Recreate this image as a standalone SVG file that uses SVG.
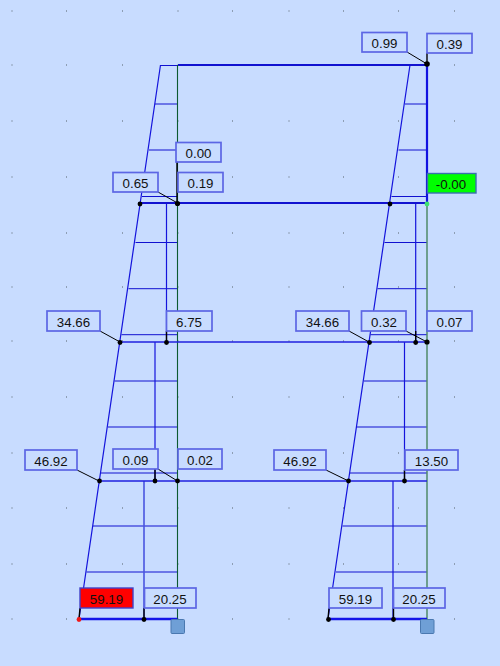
<svg xmlns="http://www.w3.org/2000/svg" width="500" height="666" viewBox="0 0 500 666">
<style>
.b{fill:#c8dcff;stroke:#5c66e4;stroke-width:1.7}
.t{font-family:"Liberation Sans",Arial,sans-serif;font-size:13.300px;fill:#111;text-anchor:middle}
.m{stroke:#1414dc;stroke-width:1.2;fill:none}
.h{stroke:#1010d0;stroke-width:1;fill:none}
.g{stroke:#0c5a30;stroke-width:1.1;fill:none}
.g2{stroke:#4f8a68;stroke-width:1.5;fill:none}
.k{stroke:#000;stroke-width:1;fill:none}
.k2{stroke:#000;stroke-width:1.4;fill:none}
.d{fill:#000}
.s{fill:#6f9fd6;stroke:#4a78b0;stroke-width:1}
.p{fill:#55606a}
</style>
<defs>
<g id="row">
<rect class="p" x="11.5" y="-.5" width="1" height="1"/><rect class="p" x="66" y="-.5" width="1" height="1"/><rect class="p" x="122" y="-.5" width="1" height="1"/><rect class="p" x="177.5" y="-.5" width="1" height="1"/><rect class="p" x="232" y="-.5" width="1" height="1"/><rect class="p" x="288.5" y="-.5" width="1" height="1"/><rect class="p" x="343" y="-.5" width="1" height="1"/><rect class="p" x="398" y="-.5" width="1" height="1"/><rect class="p" x="454" y="-.5" width="1" height="1"/>
</g>
</defs>
<rect width="500" height="666" fill="#c8dcff"/>
<g id="grid">
<use href="#row" y="11"/><use href="#row" y="65"/><use href="#row" y="121"/><use href="#row" y="177"/><use href="#row" y="233"/><use href="#row" y="287"/><use href="#row" y="341"/><use href="#row" y="397"/><use href="#row" y="453"/><use href="#row" y="508"/><use href="#row" y="564"/><use href="#row" y="619"/>
</g>
<g id="connectors">
<path class="m" d="M160.500 65L79 619M410 65L328 619"/>
<path class="h" d="M160.500 65.500H177.500M155 104H177.500M149 150H177.500M142 196.500H177.500M135.500 242.500H177.500M128.500 288.700H177.500M121.500 334.700H177.500M114.500 381H177.500M108 427H177.500M101 473H177.500M93 526H177.500M86.500 572H177.500"/>
<path class="h" d="M405 104H427M398.500 150H427M391.500 196.500H427M384.500 242.500H427M377.500 288.700H427M370.500 334.700H427M364 381H427M357 427H427M350 473H427M342.500 526H427M336 572H427"/>
<path class="m" d="M166.500 203V342M155 342V481M393 481V619M415.700 203V342M404.500 342V481"/>
<path d="M144 481V619" fill="none" stroke="#4a55e0" stroke-width="1.6"/>
<path class="g" d="M177.500 65V619"/>
<path class="g2" d="M427 203V619"/>
<path d="M178 65H427" fill="none" stroke="#1212d0" stroke-width="2.2"/>
<path d="M427 65V203" fill="none" stroke="#1212e0" stroke-width="2.2"/>
<path d="M140 203H427" fill="none" stroke="#1212d0" stroke-width="1.8"/>
<path d="M120 342H427M99 481H427" fill="none" stroke="#2020e0" stroke-width="1.4"/>
<path d="M79 619H177.500M328 619H427" fill="none" stroke="#1414e8" stroke-width="2.4"/>
<path class="k" d="M158 192L177.500 203M407 52L427 64M406 331L427 342M100 331L120 342M349 331L369 342M77 470L99 481M326 470L348.500 481M158 469L177.500 481"/>
<path class="k2" d="M177 162V203M427 53V64M166.500 331V342M415.700 331V342M155 469V481M404.500 470V481M80 608L79 619M144 608V619M329 608L328 619M393.500 608V619"/>
</g>
<g id="joints">
<circle class="d" cx="140" cy="204" r="2.4"/><circle class="d" cx="177.500" cy="203.500" r="2.6"/><circle class="d" cx="390" cy="204" r="2.4"/><circle cx="427" cy="204" r="2.4" fill="#3ce070"/>
<circle class="d" cx="427" cy="64" r="2.8"/>
<circle class="d" cx="120" cy="342.500" r="2.4"/><circle class="d" cx="166.500" cy="342.500" r="2.4"/><circle class="d" cx="369.500" cy="342.500" r="2.4"/><circle class="d" cx="415.700" cy="342.500" r="2.4"/><circle class="d" cx="427" cy="342" r="2.6"/>
<circle class="d" cx="99.500" cy="481" r="2.4"/><circle class="d" cx="155" cy="481" r="2.4"/><circle class="d" cx="177.500" cy="481" r="2.4"/><circle class="d" cx="348.500" cy="481" r="2.4"/><circle class="d" cx="404.500" cy="481" r="2.4"/>
<circle cx="79" cy="619.500" r="2.4" fill="#f01818"/><circle class="d" cx="144" cy="619.500" r="2.4"/><circle class="d" cx="328.500" cy="619.500" r="2.4"/><circle class="d" cx="393.500" cy="619.500" r="2.4"/>
</g>
<g id="support-left"><rect class="s" x="171" y="619.500" width="13.500" height="14" rx="1"/></g>
<g id="support-right"><rect class="s" x="420.500" y="619.500" width="13.500" height="14" rx="1"/></g>
<g id="n1"><rect class="b" x="176" y="142.500" width="45" height="19.500"/><text class="t" x="198.500" y="158">0.00</text></g>
<g id="n2"><rect class="b" x="178" y="172.500" width="45" height="19.500"/><text class="t" x="200.500" y="187.500">0.19</text></g>
<g id="n3"><rect class="b" x="113" y="172.500" width="45" height="19.500"/><text class="t" x="135.500" y="188">0.65</text></g>
<g id="n4"><rect class="b" x="362" y="32.500" width="45" height="19.500"/><text class="t" x="384.500" y="48">0.99</text></g>
<g id="n5"><rect class="b" x="427" y="33.500" width="45" height="19.500"/><text class="t" x="449.500" y="49">0.39</text></g>
<g id="n6"><rect x="427.500" y="173.500" width="48.500" height="19.500" fill="#00ff00" stroke="#3a70b0" stroke-width="1.4"/><text class="t" x="451" y="189">-0.00</text></g>
<g id="n7"><rect class="b" x="47" y="311" width="53" height="20"/><text class="t" x="73.500" y="327">34.66</text></g>
<g id="n8"><rect class="b" x="166.500" y="311" width="45.500" height="20"/><text class="t" x="189" y="327">6.75</text></g>
<g id="n9"><rect class="b" x="296" y="311" width="53" height="20"/><text class="t" x="322.500" y="327">34.66</text></g>
<g id="n10"><rect class="b" x="361.500" y="311" width="44.500" height="20"/><text class="t" x="384" y="327">0.32</text></g>
<g id="n11"><rect class="b" x="427" y="311" width="45" height="20"/><text class="t" x="449.500" y="327">0.07</text></g>
<g id="n12"><rect class="b" x="25" y="450" width="52" height="20"/><text class="t" x="51" y="466">46.92</text></g>
<g id="n13"><rect class="b" x="113" y="449" width="45" height="20"/><text class="t" x="135.500" y="465">0.09</text></g>
<g id="n14"><rect class="b" x="178" y="449" width="44" height="20"/><text class="t" x="200" y="465">0.02</text></g>
<g id="n15"><rect class="b" x="274" y="450" width="52" height="20"/><text class="t" x="300" y="466">46.92</text></g>
<g id="n16"><rect class="b" x="405" y="450" width="53" height="20"/><text class="t" x="431.500" y="466">13.50</text></g>
<g id="n17"><rect x="80" y="588" width="53" height="20" fill="#ff0000" stroke="#4040c8" stroke-width="1.4"/><text class="t" x="106.500" y="604">59.19</text></g>
<g id="n18"><rect class="b" x="144.500" y="588" width="51.500" height="20"/><text class="t" x="170" y="604">20.25</text></g>
<g id="n19"><rect class="b" x="329" y="588" width="53" height="20"/><text class="t" x="355.500" y="604">59.19</text></g>
<g id="n20"><rect class="b" x="393.500" y="588" width="51.500" height="20"/><text class="t" x="419" y="604">20.25</text></g>
</svg>
